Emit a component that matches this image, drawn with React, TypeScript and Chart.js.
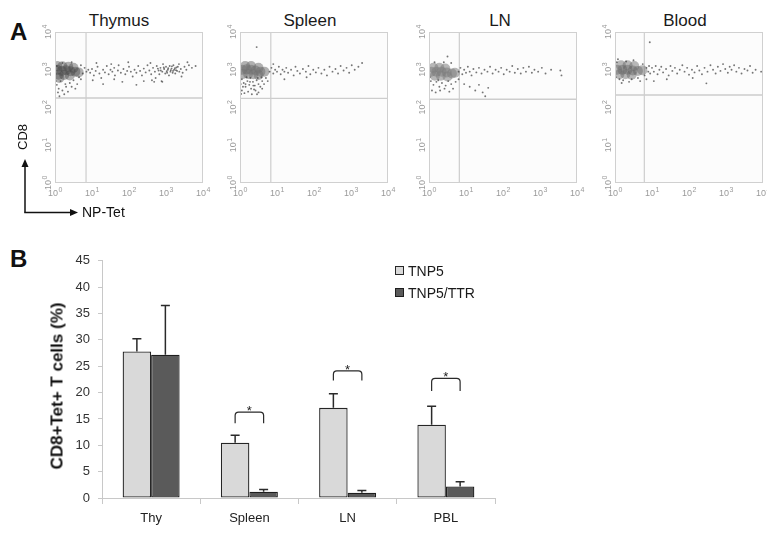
import React, { useEffect, useRef } from "react";
import { Chart, registerables } from "chart.js";

Chart.register(...registerables);

const FONT = "Arial, 'Liberation Sans', Helvetica, sans-serif";
Chart.defaults.font.family = FONT;

// ---------------- Panel A data (log10 decades: [NP-Tet, CD8]) ----------------
const flowTitles = ["Thymus", "Spleen", "LN", "Blood"];
const flowPercents = ["26%", "3,9%", "4,1%", "5,1%"];
const decades = [0, 1, 2, 3, 4];
const gateTet = [6.9, 6.8, 6.6, 6.2];
const gateCD8 = [178, 175, 166, 214];

const thymusBlobLog = [
  [0.06, 3.0], [0.18, 2.97], [0.3, 2.99], [0.42, 2.96], [0.55, 2.95], [0.1, 2.87], [0.25, 2.86],
  [0.4, 2.85], [0.2, 3.09], [0.36, 3.08], [0.5, 3.05], [0.64, 2.93], [0.06, 3.1], [0.12, 2.78],
];
const thymusDotsLog = [
  [0.05, 2.6], [0.1, 2.5], [0.2, 2.45], [0.3, 2.55], [0.08, 2.4], [0.15, 2.7], [0.4, 2.65],
  [0.5, 2.72], [0.25, 2.35], [0.6, 2.62], [0.7, 2.75], [0.75, 2.9], [0.8, 3.05], [0.7, 3.12],
  [0.45, 3.2], [0.2, 3.18], [0.05, 3.1], [0.02, 2.9], [0.12, 2.3], [0.35, 2.42], [0.55, 2.5],
  [0.65, 2.8], [0.85, 2.95], [0.9, 3.0], [0.28, 2.62], [0.45, 2.55], [0.02, 2.7],
  [0.95, 2.92], [1.0, 3.02], [1.05, 2.85], [1.1, 2.97], [1.15, 3.08], [1.2, 2.9], [1.25, 2.78],
  [1.3, 3.0], [1.35, 2.93], [1.4, 3.1], [1.45, 2.88], [1.5, 3.0], [1.55, 2.95], [1.6, 3.05],
  [1.62, 2.85], [1.7, 2.98], [1.72, 3.12], [1.78, 2.92], [1.85, 3.02], [1.9, 2.88], [1.95, 2.97],
  [2.0, 3.08], [2.05, 2.95], [2.1, 2.82], [2.15, 3.0], [2.2, 2.92], [2.25, 3.1], [2.3, 2.97],
  [2.35, 2.85], [2.4, 3.03], [2.45, 2.93], [2.5, 3.12], [2.55, 2.98], [2.6, 2.88], [2.62, 2.72],
  [2.65, 3.05], [2.7, 2.95], [2.72, 2.78], [2.75, 3.1], [2.8, 2.98], [2.82, 2.88], [2.85, 3.05],
  [2.88, 2.7], [2.9, 2.95], [2.92, 3.15], [2.95, 3.02], [2.98, 2.9], [3.0, 3.08], [3.02, 2.96],
  [3.05, 3.0], [3.08, 2.85], [3.1, 3.1], [3.12, 2.95], [3.15, 3.03], [3.18, 2.92], [3.2, 3.12],
  [3.22, 3.0], [3.25, 2.9], [3.28, 3.06], [3.3, 2.97], [3.35, 3.15], [3.4, 3.02], [3.45, 2.92],
  [3.5, 3.08], [3.55, 3.0], [3.62, 3.12], [3.7, 3.05], [3.8, 3.1], [1.3, 2.62], [2.4, 2.7],
  [2.68, 2.68], [2.9, 2.68], [1.6, 2.75], [2.2, 2.6],
  [2.86, 2.98], [2.94, 3.06], [3.03, 2.92], [3.06, 3.04], [3.13, 2.99], [3.16, 3.09], [3.19, 2.97],
  [3.24, 3.04], [3.27, 2.99], [3.32, 3.08], [3.36, 2.95], [2.78, 3.03], [1.12, 3.18], [1.52, 3.15],
  [1.98, 3.2], [2.58, 3.18], [3.58, 3.2], [3.42, 2.82], [1.02, 2.72], [1.82, 2.68],
];

const spleenBlobLog = [
  [0.06, 3.0], [0.18, 3.01], [0.3, 3.0], [0.42, 2.98], [0.55, 2.95], [0.08, 2.89], [0.22, 2.89],
  [0.36, 2.88], [0.5, 2.86], [0.14, 3.1], [0.3, 3.1], [0.5, 3.05], [0.66, 2.95],
];
const spleenDotsLog = [
  [0.05, 2.75], [0.1, 2.65], [0.15, 2.55], [0.2, 2.7], [0.25, 2.6], [0.3, 2.5], [0.35, 2.68],
  [0.4, 2.58], [0.45, 2.72], [0.5, 2.62], [0.55, 2.55], [0.6, 2.7], [0.05, 2.45], [0.12, 2.38],
  [0.22, 2.42], [0.32, 2.35], [0.42, 2.45], [0.5, 2.4], [0.6, 2.5], [0.65, 2.62], [0.7, 2.78],
  [0.08, 2.55], [0.18, 2.8], [0.28, 2.78], [0.38, 2.48], [0.48, 2.78], [0.58, 2.8], [0.02, 2.62],
  [0.75, 2.7], [0.15, 2.62], [0.27, 2.68], [0.36, 2.58], [0.03, 2.36], [0.46, 2.35],
  [0.8, 2.95], [0.85, 3.05], [0.9, 2.9], [0.95, 3.0], [1.0, 2.95], [1.05, 3.08], [1.1, 2.88],
  [1.15, 3.0], [1.2, 2.95], [1.25, 3.05], [1.3, 2.92], [1.38, 3.0], [1.45, 2.85], [1.5, 3.08],
  [1.55, 2.97], [1.62, 2.9], [1.7, 3.02], [1.78, 2.95], [1.85, 3.1], [1.9, 2.88], [1.98, 3.0],
  [2.05, 2.93], [2.12, 3.05], [2.2, 2.9], [2.28, 3.0], [2.35, 2.85], [2.42, 3.08], [2.5, 2.95],
  [2.58, 3.02], [2.65, 2.9], [2.72, 3.1], [2.8, 2.98], [2.88, 3.05], [2.95, 2.92], [3.02, 3.12],
  [3.1, 3.0], [3.2, 3.08], [3.3, 3.18], [0.45, 3.6], [1.2, 2.75], [1.8, 2.8], [0.9, 3.15],
];

const lnBlobLog = [
  [0.06, 2.95], [0.2, 2.95], [0.34, 2.95], [0.48, 2.93], [0.62, 2.9], [0.12, 3.05], [0.28, 3.05],
  [0.44, 3.03], [0.16, 2.84], [0.32, 2.84], [0.5, 2.82], [0.7, 2.92],
];
const lnDotsLog = [
  [0.05, 2.7], [0.12, 2.6], [0.2, 2.68], [0.28, 2.55], [0.35, 2.65], [0.45, 2.58], [0.52, 2.7],
  [0.6, 2.62], [0.08, 2.45], [0.18, 2.4], [0.3, 2.45], [0.42, 2.5], [0.55, 2.42], [0.65, 2.5],
  [0.72, 2.68], [0.25, 2.72], [0.02, 2.8], [0.8, 2.75], [0.15, 3.2], [0.4, 3.2], [0.6, 3.18],
  [0.8, 2.95], [0.85, 3.05], [0.9, 2.88], [0.95, 3.0], [1.0, 2.92], [1.05, 3.08], [1.1, 2.95],
  [1.15, 2.85], [1.2, 3.02], [1.28, 2.93], [1.35, 3.05], [1.42, 2.9], [1.5, 3.0], [1.58, 2.95],
  [1.65, 3.08], [1.72, 2.9], [1.8, 3.0], [1.88, 2.95], [1.95, 3.05], [2.02, 2.88], [2.1, 3.0],
  [2.18, 2.95], [2.25, 3.1], [2.32, 2.92], [2.4, 3.02], [2.48, 2.9], [2.55, 3.05], [2.62, 2.95],
  [2.7, 3.08], [2.78, 2.92], [2.85, 3.0], [2.95, 2.95], [3.05, 3.05], [3.15, 2.9], [3.3, 3.0],
  [3.55, 2.98], [3.58, 2.85], [1.1, 2.55], [1.25, 2.45], [1.35, 2.6], [1.45, 2.4], [1.6, 2.52],
  [1.52, 2.3], [0.95, 2.62], [0.5, 3.35],
];

const bloodBlobLog = [
  [0.06, 3.0], [0.2, 3.0], [0.34, 3.0], [0.48, 2.98], [0.62, 2.97], [0.12, 2.88], [0.28, 2.88],
  [0.45, 2.87], [0.16, 3.12], [0.34, 3.12], [0.52, 3.1], [0.74, 2.99],
];
const bloodDotsLog = [
  [0.02, 2.8], [0.05, 3.2], [0.12, 2.75], [0.22, 2.72], [0.3, 3.22], [0.45, 2.75], [0.5, 3.25],
  [0.62, 2.78], [0.75, 3.15], [0.8, 2.85], [0.85, 3.05], [0.9, 2.95], [0.18, 2.65], [0.38, 2.68],
  [0.68, 2.7], [0.08, 3.28], [0.85, 2.75], [0.92, 3.1],
  [0.95, 2.9], [1.0, 3.05], [1.05, 2.95], [1.1, 3.1], [1.15, 2.88], [1.2, 3.0], [1.25, 3.08],
  [1.3, 2.93], [1.38, 3.02], [1.45, 2.85], [1.5, 3.1], [1.55, 2.97], [1.62, 3.05], [1.68, 2.9],
  [1.75, 3.0], [1.82, 3.12], [1.88, 2.95], [1.95, 3.05], [2.0, 2.87], [2.08, 3.0], [2.15, 2.93],
  [2.22, 3.1], [2.28, 2.98], [2.35, 2.88], [2.42, 3.05], [2.47, 2.64], [2.5, 2.95], [2.58, 3.12],
  [2.65, 3.0], [2.72, 2.9], [2.78, 3.08], [2.85, 2.97], [2.92, 3.15], [2.98, 3.02], [3.05, 2.92],
  [3.1, 3.08], [3.15, 3.0], [3.22, 3.12], [3.28, 2.95], [3.35, 3.05], [3.42, 2.9], [3.5, 3.02],
  [3.58, 2.98], [3.65, 3.1], [3.72, 2.92], [3.8, 3.0], [3.95, 2.95], [0.94, 3.73], [1.4, 2.75],
  [2.1, 2.78], [1.05, 2.7],
];

const flowBlobs = [thymusBlobLog, spleenBlobLog, lnBlobLog, bloodBlobLog];
const flowDots = [thymusDotsLog, spleenDotsLog, lnDotsLog, bloodDotsLog];

// ---------------- Panel B data ----------------
const categories = ["Thy", "Spleen", "LN", "PBL"];
const tnp5 = [27.8, 10.5, 17.1, 13.9];
const tnp5Err = [2.4, 1.4, 2.7, 3.5];
const tnp5ttr = [27.2, 1.2, 1.0, 2.2];
const tnp5ttrErr = [9.3, 0.4, 0.4, 0.9];
const bracketTop = [null, 16.3, 24.1, 22.7];
const bracketEnd = [null, 14.2, 22.3, 20.3];
const yMax = 45;
const yStep = 5;
const yTitle = "CD8+Tet+ T cells (%)";

// ---------------- layout (positions only) ----------------
const boxLefts = [55, 240, 429, 615];
const titleCenters = [119, 310, 500, 685];
const percentRights = [193, 380, 572, 757];
const blobColors = [
  "rgba(70,70,70,0.42)",
  "rgba(115,115,115,0.55)",
  "rgba(125,125,125,0.55)",
  "rgba(100,100,100,0.45)",
];

function drawPow(ctx: CanvasRenderingContext2D, exp: number, cx: number, by: number) {
  ctx.textAlign = "left";
  ctx.textBaseline = "alphabetic";
  ctx.font = `9px ${FONT}`;
  const w1 = ctx.measureText("10").width;
  ctx.font = `7px ${FONT}`;
  const w2 = ctx.measureText(String(exp)).width;
  const x0 = cx - (w1 + w2) / 2;
  ctx.font = `9px ${FONT}`;
  ctx.fillText("10", x0, by);
  ctx.font = `7px ${FONT}`;
  ctx.fillText(String(exp), x0 + w1 + 0.5, by - 4);
}

function FlowPlot({ i }: { i: number }) {
  const ref = useRef<HTMLCanvasElement | null>(null);
  useEffect(() => {
    const toPts = (a: number[][]) => a.map(([lx, ly]) => ({ x: Math.pow(10, lx), y: Math.pow(10, ly) }));
    const decor = {
      id: "flowDecor",
      beforeDatasetsDraw(chart: any) {
        const { ctx, chartArea: a } = chart;
        ctx.save();
        ctx.fillStyle = "#fcfcfc";
        ctx.fillRect(a.left, a.top, a.right - a.left, a.bottom - a.top);
        ctx.restore();
      },
      afterDatasetsDraw(chart: any) {
        const { ctx, chartArea: a, scales } = chart;
        ctx.save();
        ctx.strokeStyle = "#d0d0d0";
        ctx.lineWidth = 1;
        ctx.strokeRect(a.left + 0.5, a.top + 0.5, a.right - a.left - 1, a.bottom - a.top - 1);
        ctx.fillStyle = "#9a9a9a";
        decades.forEach((d) => {
          const px = scales.x.getPixelForValue(Math.pow(10, d));
          drawPow(ctx, d, px, a.bottom + 13);
          const py = scales.y.getPixelForValue(Math.pow(10, d));
          ctx.save();
          ctx.translate(a.left - 8, py);
          ctx.rotate(-Math.PI / 2);
          drawPow(ctx, d, 0, 3.5);
          ctx.restore();
        });
        ctx.restore();
      },
    };
    const chart = new Chart(ref.current as HTMLCanvasElement, {
      type: "scatter",
      data: {
        datasets: [
          {
            data: toPts(flowDots[i]),
            pointRadius: 0.95,
            pointHoverRadius: 0.95,
            pointBorderWidth: 0,
            pointBackgroundColor: "rgba(60,60,60,0.7)",
            clip: 0,
          } as any,
          {
            data: toPts(flowBlobs[i]),
            pointRadius: 5,
            pointHoverRadius: 5,
            pointBorderWidth: 0,
            pointBackgroundColor: blobColors[i],
            clip: 0,
          },
          {
            data: [{ x: gateTet[i], y: 1 }, { x: gateTet[i], y: 10000 }],
            showLine: true,
            borderColor: "#cdcdcd",
            borderWidth: 1.2,
            pointRadius: 0,
          },
          {
            data: [{ x: 1, y: gateCD8[i] }, { x: 10000, y: gateCD8[i] }],
            showLine: true,
            borderColor: "#cdcdcd",
            borderWidth: 1.4,
            pointRadius: 0,
          },
        ],
      },
      options: {
        animation: false,
        responsive: false,
        events: [],
        layout: { padding: { top: 10, right: 12, left: 0, bottom: 0 } },
        plugins: { legend: { display: false }, tooltip: { enabled: false } },
        scales: {
          x: {
            type: "logarithmic",
            min: 1,
            max: 10000,
            grid: { display: false },
            border: { display: false },
            ticks: { display: false },
            afterBuildTicks: (s: any) => {
              s.ticks = decades.map((d) => ({ value: Math.pow(10, d) }));
            },
            afterFit: (s: any) => {
              s.height = 20;
            },
          },
          y: {
            type: "logarithmic",
            min: 1,
            max: 10000,
            grid: { display: false },
            border: { display: false },
            ticks: { display: false },
            afterBuildTicks: (s: any) => {
              s.ticks = decades.map((d) => ({ value: Math.pow(10, d) }));
            },
            afterFit: (s: any) => {
              s.width = 30;
            },
          },
        },
      } as any,
      plugins: [decor],
    });
    return () => chart.destroy();
  }, [i]);
  return (
    <canvas
      ref={ref}
      width={190}
      height={181}
      style={{ position: "absolute", left: boxLefts[i] - 30, top: 22, width: 190, height: 181 }}
    />
  );
}

function BarPanel() {
  const ref = useRef<HTMLCanvasElement | null>(null);
  useEffect(() => {
    const marks = {
      id: "errBrackets",
      afterDatasetsDraw(chart: any) {
        const { ctx } = chart;
        const ys = chart.scales.y;
        const errs = [tnp5Err, tnp5ttrErr];
        ctx.save();
        ctx.strokeStyle = "#2a2a2a";
        ctx.lineWidth = 1.5;
        [0, 1].forEach((d) => {
          const meta = chart.getDatasetMeta(d);
          const vals = chart.data.datasets[d].data as number[];
          meta.data.forEach((bar: any, k: number) => {
            const y0 = ys.getPixelForValue(vals[k]);
            const y1 = ys.getPixelForValue(vals[k] + errs[d][k]);
            ctx.beginPath();
            ctx.moveTo(bar.x, y0);
            ctx.lineTo(bar.x, y1);
            ctx.moveTo(bar.x - 4.5, y1);
            ctx.lineTo(bar.x + 4.5, y1);
            ctx.stroke();
          });
        });
        const m0 = chart.getDatasetMeta(0);
        const m1 = chart.getDatasetMeta(1);
        ctx.lineWidth = 1.2;
        ctx.fillStyle = "#222";
        ctx.font = `13px ${FONT}`;
        ctx.textAlign = "center";
        ctx.textBaseline = "alphabetic";
        categories.forEach((_, k) => {
          const t = bracketTop[k];
          const e = bracketEnd[k];
          if (t == null || e == null) return;
          const x1 = m0.data[k].x;
          const x2 = m1.data[k].x;
          const yt = ys.getPixelForValue(t);
          const ye = ys.getPixelForValue(e);
          const r = 3.5;
          ctx.beginPath();
          ctx.moveTo(x1, ye);
          ctx.lineTo(x1, yt + r);
          ctx.quadraticCurveTo(x1, yt, x1 + r, yt);
          ctx.lineTo(x2 - r, yt);
          ctx.quadraticCurveTo(x2, yt, x2, yt + r);
          ctx.lineTo(x2, ye);
          ctx.stroke();
          ctx.fillText("*", (x1 + x2) / 2, yt + 3);
        });
        ctx.restore();
      },
    };
    const chart = new Chart(ref.current as HTMLCanvasElement, {
      type: "bar",
      data: {
        labels: categories,
        datasets: [
          {
            label: "TNP5",
            data: tnp5,
            backgroundColor: "#d9d9d9",
            borderColor: "#262626",
            borderWidth: 1.3,
            borderSkipped: false,
          },
          {
            label: "TNP5/TTR",
            data: tnp5ttr,
            backgroundColor: "#5a5a5a",
            borderColor: "#1e1e1e",
            borderWidth: 1.3,
            borderSkipped: false,
          },
        ],
      },
      options: {
        animation: false,
        responsive: false,
        events: [],
        layout: { padding: { left: 48, top: 15, right: 272, bottom: 0 } },
        datasets: { bar: { categoryPercentage: 0.58, barPercentage: 1 } },
        plugins: { legend: { display: false }, tooltip: { enabled: false } },
        scales: {
          x: {
            grid: { display: true, offset: true, drawOnChartArea: false, tickLength: 6, color: "#c8c8c8" },
            border: { color: "#c8c8c8" },
            ticks: { color: "#222", font: { size: 13 }, padding: 7 },
            afterFit: (s: any) => {
              s.height = 35;
            },
          },
          y: {
            min: 0,
            max: yMax,
            ticks: { stepSize: yStep, color: "#333", font: { size: 13 }, padding: 8 },
            grid: { drawOnChartArea: false, tickLength: 4, color: "#c8c8c8" },
            border: { color: "#c8c8c8" },
            afterFit: (s: any) => {
              s.width = 54;
            },
          },
        },
      } as any,
      plugins: [marks],
    });
    return () => chart.destroy();
  }, []);
  return (
    <canvas
      ref={ref}
      width={767}
      height={288}
      style={{ position: "absolute", left: 0, top: 245, width: 767, height: 288 }}
    />
  );
}

function Txt(props: {
  x: number;
  y: number;
  size: number;
  bold?: boolean;
  align?: "left" | "center" | "right";
  color?: string;
  children: React.ReactNode;
}) {
  const { x, y, size, bold, align = "left", color = "#111", children } = props;
  const tx = align === "center" ? "translateX(-50%)" : align === "right" ? "translateX(-100%)" : "none";
  return (
    <div
      style={{
        position: "absolute",
        left: x,
        top: y - 0.8465 * size,
        fontSize: size,
        lineHeight: `${size}px`,
        fontWeight: bold ? "bold" : "normal",
        whiteSpace: "nowrap",
        transform: tx,
        color,
      }}
    >
      {children}
    </div>
  );
}

function Rotated(props: { x: number; y: number; size: number; bold?: boolean; children: React.ReactNode }) {
  const { x, y, size, bold, children } = props;
  return (
    <div
      style={{
        position: "absolute",
        left: x,
        top: y,
        fontSize: size,
        lineHeight: `${size}px`,
        fontWeight: bold ? "bold" : "normal",
        whiteSpace: "nowrap",
        color: "#111",
        transform: "translate(-50%, -50%) rotate(-90deg)",
      }}
    >
      {children}
    </div>
  );
}

export default function App() {
  return (
    <div
      style={{
        position: "fixed",
        left: 0,
        top: 0,
        width: 767,
        height: 533,
        background: "#fff",
        fontFamily: FONT,
        overflow: "hidden",
      }}
    >
      <Txt x={10} y={40} size={24} bold>
        A
      </Txt>
      {flowTitles.map((t, i) => (
        <Txt key={t} x={titleCenters[i]} y={26} size={17} align="center" color="#1a1a1a">
          {t}
        </Txt>
      ))}
      {flowPercents.map((p, i) => (
        <Txt key={p} x={percentRights[i]} y={55} size={15} align="right" color="#1a1a1a">
          {p}
        </Txt>
      ))}
      {[0, 1, 2, 3].map((i) => (
        <FlowPlot key={i} i={i} />
      ))}
      <svg width={90} height={70} style={{ position: "absolute", left: 0, top: 150 }}>
        <line x1={25} y1={62.5} x2={25} y2={16} stroke="#111" strokeWidth={1.5} />
        <polygon points="25,9 21.5,17 28.5,17" fill="#111" />
        <line x1={24.25} y1={62.5} x2={70} y2={62.5} stroke="#111" strokeWidth={1.5} />
        <polygon points="78,62.5 70,59 70,66" fill="#111" />
      </svg>
      <Rotated x={22} y={137} size={13}>
        CD8
      </Rotated>
      <Txt x={82} y={217} size={14} color="#111">
        NP-Tet
      </Txt>

      <Txt x={10} y={267} size={24} bold>
        B
      </Txt>
      <BarPanel />
      <Rotated x={57} y={386} size={17} bold>
        {yTitle}
      </Rotated>
      <div
        style={{
          position: "absolute",
          left: 395,
          top: 266,
          width: 7,
          height: 7,
          border: "1.5px solid #262626",
          background: "#d9d9d9",
        }}
      />
      <Txt x={408} y={276} size={14} color="#1a1a1a">
        TNP5
      </Txt>
      <div
        style={{
          position: "absolute",
          left: 395,
          top: 288,
          width: 7,
          height: 7,
          border: "1.5px solid #1e1e1e",
          background: "#5a5a5a",
        }}
      />
      <Txt x={408} y={298} size={14} color="#1a1a1a">
        TNP5/TTR
      </Txt>
    </div>
  );
}
